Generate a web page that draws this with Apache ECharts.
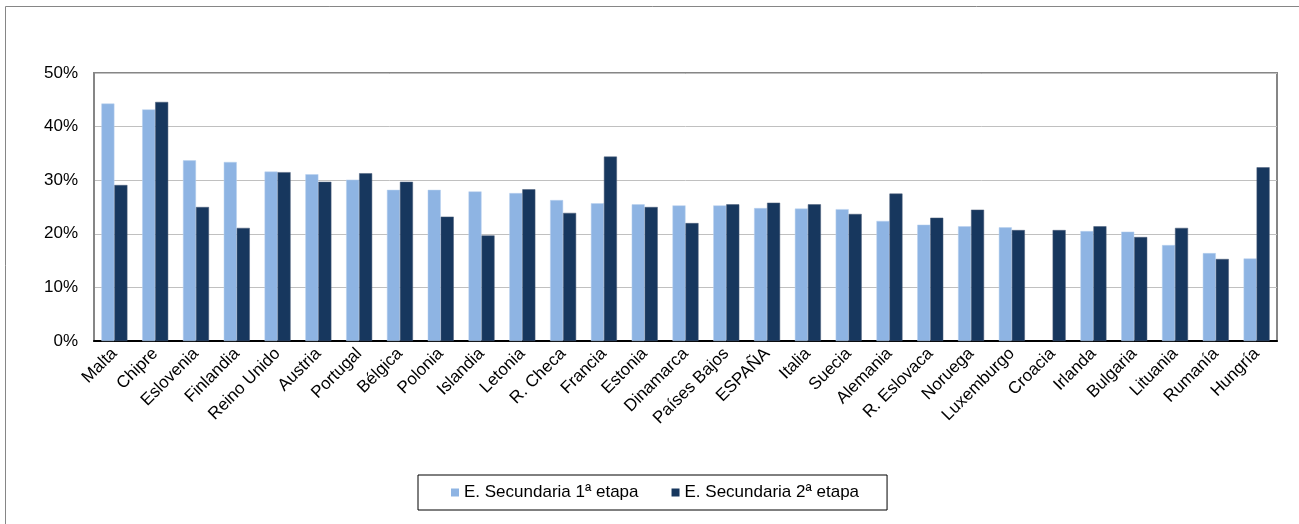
<!DOCTYPE html>
<html>
<head>
<meta charset="utf-8">
<script src="https://cdn.jsdelivr.net/npm/echarts@6/dist/echarts.min.js"></script>
<style>
html,body{margin:0;padding:0;background:#fff;}
#c{width:1299px;height:524px;}
</style>
</head>
<body>
<div id="c"></div>
<script>
const categories = ["Malta","Chipre","Eslovenia","Finlandia","Reino Unido","Austria","Portugal","Bélgica","Polonia","Islandia","Letonia","R. Checa","Francia","Estonia","Dinamarca","Países Bajos","ESPAÑA","Italia","Suecia","Alemania","R. Eslovaca","Noruega","Luxemburgo","Croacia","Irlanda","Bulgaria","Lituania","Rumanía","Hungría"];
const etapa1 = [44.3,43.2,33.7,33.4,31.6,31.1,30.1,28.2,28.2,27.9,27.6,26.3,25.7,25.5,25.3,25.3,24.8,24.7,24.6,22.4,21.7,21.4,21.2,null,20.5,20.4,17.9,16.4,15.4];
const etapa2 = [29.1,44.6,25.0,21.1,31.5,29.7,31.3,29.7,23.2,19.7,28.3,23.9,34.4,25.0,22.0,25.5,25.8,25.5,23.7,27.5,23.0,24.5,20.7,20.7,21.4,19.4,21.1,15.3,32.4];
const seriesNames = ["E. Secundaria 1ª etapa","E. Secundaria 2ª etapa"];
const yTicks = [0,10,20,30,40,50];

const chart = echarts.init(document.getElementById('c'), null, {renderer:'canvas'});
const font = "Liberation Sans, Arial, sans-serif";
chart.setOption({
  animation:false,
  backgroundColor:'#fff',
  textStyle:{fontFamily:font},
  graphic:[{
    type:'rect', silent:true, z:-10,
    shape:{x:5.5,y:6.5,width:1400,height:700},
    style:{fill:'none',stroke:'#868686',lineWidth:1}
  }],
  grid:{left:94,right:22,top:73,bottom:183,show:true,borderColor:'#868686',borderWidth:2,backgroundColor:'transparent'},
  legend:{
    left:418, top:475,
    data:seriesNames,
    icon:'rect', itemWidth:8, itemHeight:8, itemGap:33,
    itemStyle:{borderWidth:0},
    borderColor:'#000', borderWidth:1, borderRadius:0,
    padding:[9,28,9,33],
    textStyle:{fontFamily:font,fontSize:17,color:'#000'}
  },
  xAxis:{
    type:'category', data:categories,
    axisLine:{show:true,lineStyle:{color:'#000',width:2}},
    axisTick:{show:false},
    axisLabel:{interval:0,rotate:45,margin:10,fontFamily:font,fontSize:17,color:'#000'}
  },
  yAxis:{
    type:'value', min:0, max:50, interval:10,
    axisLine:{show:true,lineStyle:{color:'#868686',width:2}},
    axisTick:{show:false},
    splitLine:{lineStyle:{color:'#c0c0c0',width:1}},
    axisLabel:{margin:16,fontFamily:font,fontSize:17,color:'#000',
      formatter:function(v){return yTicks.indexOf(v)>=0 ? v+'%' : '';}}
  },
  series:[
    {name:seriesNames[0],type:'bar',data:etapa1,barWidth:13,barGap:'0%',
     itemStyle:{color:'#8EB4E3',borderColor:'#b9d1ee',borderWidth:0.5}},
    {name:seriesNames[1],type:'bar',data:etapa2,barWidth:13,barGap:'0%',
     itemStyle:{color:'#17375E',borderColor:'#4a5d78',borderWidth:0.5}}
  ]
});
</script>
</body>
</html>
